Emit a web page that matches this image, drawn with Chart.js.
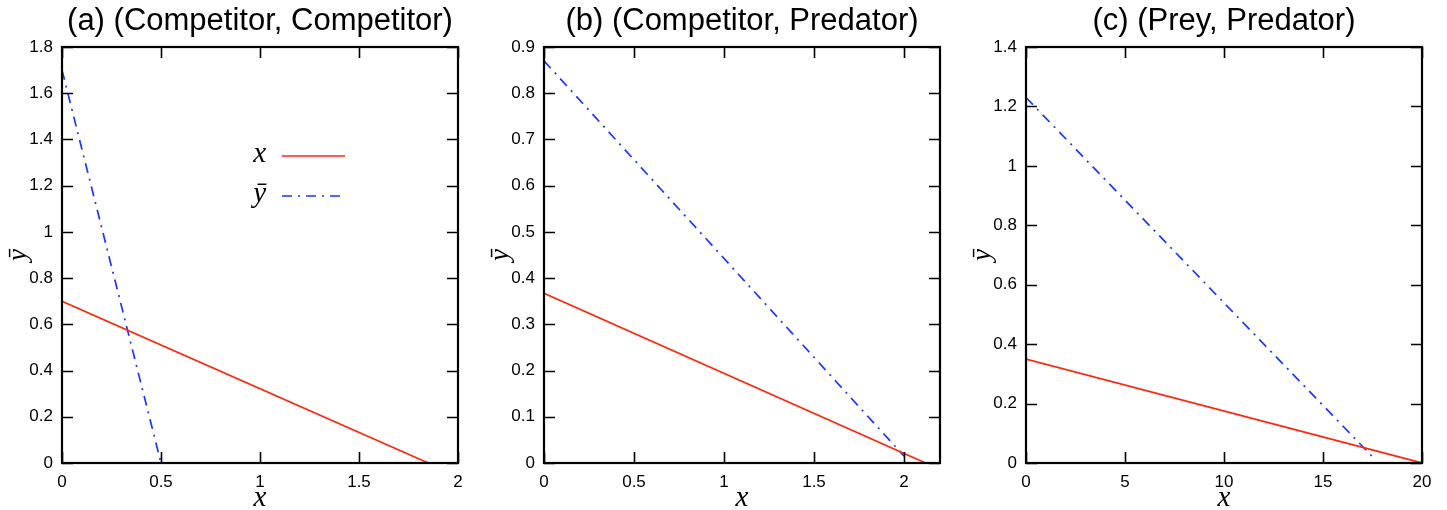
<!DOCTYPE html>
<html>
<head>
<meta charset="utf-8">
<script src="https://cdn.jsdelivr.net/npm/chart.js@4.4.1/dist/chart.umd.min.js"></script>
<style>
  html, body { margin: 0; padding: 0; background: #fff; }
  #wrap { position: relative; width: 1447px; height: 510px; }
  .panel { position: absolute; top: 0; height: 510px; }
</style>
</head>
<body>
<div id="wrap">
  <div class="panel" style="left:0;width:482px"><canvas id="chartA"></canvas></div>
  <div class="panel" style="left:482px;width:482px"><canvas id="chartB"></canvas></div>
  <div class="panel" style="left:964px;width:483px"><canvas id="chartC"></canvas></div>
</div>
<script>
  // Nullclines: x (solid red) and y-bar (dash-dot blue), one pair per panel
  var titles = ['(a) (Competitor, Competitor)', '(b) (Competitor, Predator)', '(c) (Prey, Predator)'];

  var xNullA_x = [0, 1.85];  var xNullA_y = [0.70, 0];
  var yNullA_x = [0, 0.50];  var yNullA_y = [1.70, 0];

  var xNullB_x = [0, 2.12];  var xNullB_y = [0.367, 0];
  var yNullB_x = [0, 2.00];  var yNullB_y = [0.87, 0.015];

  var xNullC_x = [0, 20];    var xNullC_y = [0.35, 0];
  var yNullC_x = [0, 17.6];  var yNullC_y = [1.23, 0.014];

  // axis ranges and tick steps
  var xMax = [2, 2.2, 20];
  var xStep = [0.5, 0.5, 5];
  var yMax = [1.8, 0.9, 1.4];
  var yStep = [0.2, 0.1, 0.2];

  var RED = 'rgb(255, 40, 15)';
  var BLUE = 'rgb(25, 55, 255)';
  var DASHDOT = [10, 6, 2, 6];
  var SANS = '"Liberation Sans", Arial, Helvetica, sans-serif';
  var SERIF = '"Liberation Serif", "Times New Roman", serif';

  function pts(xs, ys) {
    return xs.map(function (v, i) { return { x: v, y: ys[i] }; });
  }

  function fmt(v) { return String(parseFloat(v.toFixed(3))); }

  // box frame with inward tick marks on all four sides
  var framePlugin = {
    id: 'frame',
    afterDraw: function (chart) {
      var ctx = chart.ctx, a = chart.chartArea;
      var xs = chart.scales.x, ys = chart.scales.y;
      var len = 11;
      ctx.save();
      ctx.strokeStyle = '#000';
      ctx.lineWidth = 1.6;
      ctx.beginPath();
      xs.ticks.forEach(function (t) {
        var px = Math.round(xs.getPixelForValue(t.value)) + 0.5;
        ctx.moveTo(px, a.bottom); ctx.lineTo(px, a.bottom - len);
        ctx.moveTo(px, a.top); ctx.lineTo(px, a.top + len);
      });
      ys.ticks.forEach(function (t) {
        var py = Math.round(ys.getPixelForValue(t.value)) + 0.5;
        ctx.moveTo(a.left, py); ctx.lineTo(a.left + len, py);
        ctx.moveTo(a.right, py); ctx.lineTo(a.right - len, py);
      });
      ctx.stroke();
      ctx.lineWidth = 2.2;
      ctx.strokeRect(a.left, a.top, a.right - a.left, a.bottom - a.top);
      ctx.restore();
    }
  };

  // legend with the label on the left and the line sample on the right
  var legendPlugin = {
    id: 'sideLegend',
    afterDraw: function (chart, args, opts) {
      if (!opts.show) return;
      var ctx = chart.ctx;
      var rows = [156, 196];
      ctx.save();
      chart.data.datasets.forEach(function (ds, i) {
        var y = rows[i];
        ctx.font = 'italic 29px ' + SERIF;
        ctx.fillStyle = '#000';
        ctx.textAlign = 'right';
        ctx.textBaseline = 'middle';
        ctx.fillText(ds.label, 266, y - 2);
        ctx.strokeStyle = ds.borderColor;
        ctx.lineWidth = ds.borderWidth;
        ctx.setLineDash(ds.borderDash || []);
        ctx.beginPath();
        ctx.moveTo(282, y);
        ctx.lineTo(345, y);
        ctx.stroke();
      });
      ctx.restore();
    }
  };

  function makeChart(id, idx, xNull, yNull, withLegend) {
    return new Chart(document.getElementById(id), {
      type: 'scatter',
      data: {
        datasets: [{
          label: 'x',
          data: xNull,
          showLine: true,
          borderColor: RED,
          borderWidth: 1.7,
          pointRadius: 0
        }, {
          label: '\u0233',
          data: yNull,
          showLine: true,
          borderColor: BLUE,
          borderWidth: 1.7,
          borderDash: DASHDOT,
          pointRadius: 0
        }]
      },
      options: {
        responsive: true,
        maintainAspectRatio: false,
        animation: false,
        layout: { padding: { left: 0, right: idx === 2 ? 25 : 24, top: 0, bottom: 0 } },
        plugins: {
          legend: { display: false },
          tooltip: { enabled: false },
          title: {
            display: true,
            text: titles[idx],
            fullSize: false,
            color: '#000',
            font: { family: SANS, size: 31, weight: 'normal', lineHeight: 1.2 },
            padding: { top: 3, bottom: 6.8 }
          },
          sideLegend: { show: withLegend }
        },
        scales: {
          x: {
            type: 'linear',
            min: 0,
            max: xMax[idx],
            border: { display: false },
            grid: { display: false, drawTicks: false },
            ticks: {
              stepSize: xStep[idx],
              includeBounds: false,
              padding: 9,
              color: '#000',
              font: { family: SANS, size: 17 },
              maxRotation: 0,
              callback: function (v) { return fmt(v); }
            },
            title: {
              display: true,
              text: 'x',
              color: '#000',
              font: { family: SERIF, size: 29, style: 'italic', lineHeight: 0.8 },
              padding: { top: 0, bottom: 0 }
            },
            afterFit: function (s) { s.height = 47; }
          },
          y: {
            type: 'linear',
            min: 0,
            max: yMax[idx],
            border: { display: false },
            grid: { display: false, drawTicks: false },
            ticks: {
              stepSize: yStep[idx],
              padding: 9,
              color: '#000',
              font: { family: SANS, size: 17 },
              callback: function (v) { return fmt(v); }
            },
            title: {
              display: true,
              text: '\u0233',
              color: '#000',
              font: { family: SERIF, size: 27, style: 'italic', lineHeight: 1.2 },
              padding: { top: 3, bottom: 0 }
            },
            afterFit: function (s) { s.width = 62; }
          }
        }
      },
      plugins: [framePlugin, legendPlugin]
    });
  }

  makeChart('chartA', 0, pts(xNullA_x, xNullA_y), pts(yNullA_x, yNullA_y), true);
  makeChart('chartB', 1, pts(xNullB_x, xNullB_y), pts(yNullB_x, yNullB_y), false);
  makeChart('chartC', 2, pts(xNullC_x, xNullC_y), pts(yNullC_x, yNullC_y), false);
</script>
</body>
</html>
